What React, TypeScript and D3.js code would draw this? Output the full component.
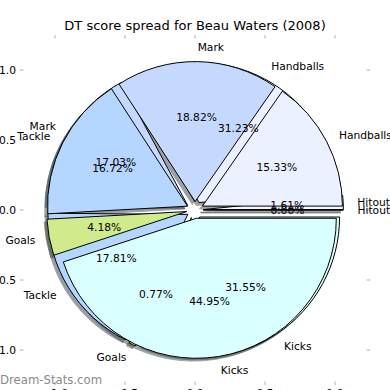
import React from "react";
import * as d3 from "d3";

// categories in the order the pies are drawn (counter-clockwise from 3 o'clock)
const categories = ["Hitouts", "Handballs", "Mark", "Tackle", "Goals", "Kicks"];
// share of stat counts (drawn first, underneath)
const countShare = [1.61, 31.23, 17.03, 17.81, 0.77, 31.55];
// share of DT points (drawn second, on top)
const pointShare = [0.0, 15.33, 18.82, 16.72, 4.18, 44.95];
const sliceColors = ["#f6f6ff", "#ebf1ff", "#c5d9ff", "#b4d6ff", "#d0eb8c", "#d9ffff"];
const tickValues = [-1, -0.5, 0, 0.5, 1];

const W = 390;
const H = 390;
const explode = 0.06;
const font = "DejaVu Sans, sans-serif";

const x = d3.scaleLinear().domain([-1.25, 1.25]).range([20, 370]);
const y = d3.scaleLinear().domain([-1.25, 1.25]).range([385, 35]);
const R = x(1) - x(0);

const fmtTick = (v: number) => (v < 0 ? "\u2212" : "") + Math.abs(v).toFixed(1);

// matplotlib pie: starts at 3 o'clock, goes counter-clockwise
const pie = d3
  .pie<number>()
  .sort(null)
  .value((d) => d)
  .startAngle(Math.PI / 2)
  .endAngle(Math.PI / 2 - 2 * Math.PI);

const arc = d3.arc<any>().innerRadius(0).outerRadius(R);

function buildPie(values: number[]) {
  return pie(values).map((a, i) => {
    const mid = (a.startAngle + a.endAngle) / 2;
    const ux = Math.sin(mid);
    const uy = -Math.cos(mid); // screen coords
    const cx = x(0) + explode * R * ux;
    const cy = y(0) + explode * R * uy;
    const lx = cx + 1.1 * R * ux;
    const ly = cy + 1.1 * R * uy;
    return {
      arc: a,
      i,
      cx,
      cy,
      path: arc(a) as string,
      label: categories[i],
      lx,
      ly,
      anchor: lx > x(0) ? "start" : "end",
      px: cx + 0.6 * R * ux,
      py: cy + 0.6 * R * uy,
      pct: values[i].toFixed(2) + "%",
    };
  });
}

const App = () => {
  const under = buildPie(countShare);
  const over = buildPie(pointShare);
  const all = [...under, ...over];

  const shadowColor = (c: string) => {
    const rgb = d3.rgb(c);
    return d3.rgb(rgb.r * 0.3, rgb.g * 0.3, rgb.b * 0.3).formatHex();
  };

  return (
    <svg
      width={W}
      height={H}
      style={{ position: "absolute", left: 0, top: 0, background: "#fff" }}
      fontFamily={font}
    >
      <rect width={W} height={H} fill="#fff" />

      {/* title */}
      <text x={195} y={29.5} textAnchor="middle" fontSize={13} fill="#000">
        DT score spread for Beau Waters (2008)
      </text>

      {/* ticks */}
      {tickValues.map((v) => (
        <g key={"t" + v} stroke="#b0b0b0" strokeWidth={1}>
          <line x1={x(v)} x2={x(v)} y1={35} y2={38.5} />
          <line x1={x(v)} x2={x(v)} y1={381.5} y2={385} />
          <line x1={20} x2={23.5} y1={y(v)} y2={y(v)} />
          <line x1={366.5} x2={370} y1={y(v)} y2={y(v)} />
        </g>
      ))}
      {tickValues.map((v) => (
        <text key={"yl" + v} x={16} y={y(v)} dy="0.35em" textAnchor="end" fontSize={10.7} fill="#000">
          {fmtTick(v)}
        </text>
      ))}
      {tickValues.map((v) => (
        <text key={"xl" + v} x={x(v)} y={397} textAnchor="middle" fontSize={10.7} fill="#000">
          {fmtTick(v)}
        </text>
      ))}

      {/* shadows of every wedge, below all wedges */}
      {all.map((d, k) => (
        <path
          key={"s" + k}
          d={d.path}
          transform={`translate(${d.cx - 0.02 * R},${d.cy + 0.02 * R})`}
          fill={shadowColor(sliceColors[d.i])}
          stroke={shadowColor(sliceColors[d.i])}
          strokeWidth={1}
          opacity={0.5}
        />
      ))}

      {/* wedges */}
      {all.map((d, k) => (
        <path
          key={"w" + k}
          d={d.path}
          transform={`translate(${d.cx},${d.cy})`}
          fill={sliceColors[d.i]}
          stroke="#000"
          strokeWidth={1}
          strokeLinejoin="round"
        />
      ))}

      {/* labels and percentages */}
      {all.map((d, k) => (
        <g key={"l" + k} fontSize={10.7} fill="#000">
          <text x={d.lx} y={d.ly} dy="0.35em" textAnchor={d.anchor}>
            {d.label}
          </text>
          <text x={d.px} y={d.py} dy="0.35em" textAnchor="middle">
            {d.pct}
          </text>
        </g>
      ))}

      {/* watermark */}
      <text x={0} y={384} fontSize={11.7} fill="#8a8a8a">
        Dream-Stats.com
      </text>
    </svg>
  );
};

export default App;
